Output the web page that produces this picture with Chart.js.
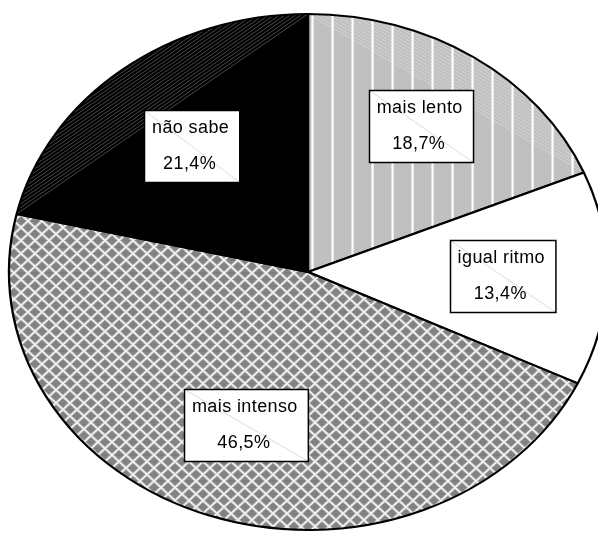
<!DOCTYPE html>
<html>
<head>
<meta charset="utf-8">
<script src="https://cdn.jsdelivr.net/npm/chart.js@4.4.1/dist/chart.umd.min.js"></script>
<style>
  html, body { margin: 0; padding: 0; background: #ffffff; }
  canvas { display: block; }
</style>
</head>
<body>
<canvas id="pie" width="598" height="534"></canvas>
<script>
// Slices, clockwise from 12 o'clock
const categories = ['mais lento', 'igual ritmo', 'mais intenso', 'não sabe'];
const shares = [18.7, 13.4, 46.5, 21.4];

// Horizontal stretch of the pie (it is drawn as an ellipse)
const ASPECT = 1.159;
// Where each label box sits, as a fraction of the radius along its slice's mid-angle
const labelRadius = [0.68, 0.65, 0.63, 0.625];
// Extra shading in the outer segment (between chord and rim) of some slices
const segmentHatch = [
  { color: 'rgba(255,255,255,0.30)', gap: 3 },
  null,
  null,
  { color: '#4a4a4a', gap: 3 }
];

function percentText(v) {
  return v.toFixed(1).replace('.', ',') + '%';
}

// Grey with thin white vertical stripes
function makeStripePattern() {
  const c = document.createElement('canvas');
  c.width = 20; c.height = 20;
  const g = c.getContext('2d');
  g.fillStyle = '#c0c0c0';
  g.fillRect(0, 0, 20, 20);
  g.fillStyle = '#e2e2e2';
  g.fillRect(11, 0, 1, 20);
  g.fillStyle = '#ffffff';
  g.fillRect(12, 0, 1, 20);
  g.fillStyle = '#e8e8e8';
  g.fillRect(13, 0, 1, 20);
  return g.createPattern(c, 'repeat');
}

// Dark grey with a white diamond lattice
function makeDiamondPattern() {
  const W = 14, H = 13;
  const c = document.createElement('canvas');
  c.width = W; c.height = H;
  const g = c.getContext('2d');
  g.fillStyle = '#868686';
  g.fillRect(0, 0, W, H);
  g.fillStyle = 'rgba(0,0,0,0.06)';
  for (let y = 0; y < H; y += 2) g.fillRect(0, y, W, 1);
  const lines = [[0, 0, W, H], [W, 0, 0, H]];
  g.lineCap = 'square';
  g.strokeStyle = '#b4b4b4';
  g.lineWidth = 3;
  lines.forEach(([a, b, c2, d]) => { g.beginPath(); g.moveTo(a, b); g.lineTo(c2, d); g.stroke(); });
  g.strokeStyle = '#f4f4f4';
  g.lineWidth = 1.4;
  lines.forEach(([a, b, c2, d]) => { g.beginPath(); g.moveTo(a, b); g.lineTo(c2, d); g.stroke(); });
  return g.createPattern(c, 'repeat');
}

const stripePattern = makeStripePattern();
const diamondPattern = makeDiamondPattern();
const fills = [stripePattern, '#ffffff', diamondPattern, '#000000'];

// Stretch the pie horizontally around its centre; keep patterns in screen space
const ellipsePlugin = {
  id: 'ellipse',
  beforeDatasetsDraw(chart) {
    const arc = chart.getDatasetMeta(0).data[0];
    const cx = arc.x, cy = arc.y;
    const m = new DOMMatrix([1 / ASPECT, 0, 0, 1, cx - cx / ASPECT, 0]);
    stripePattern.setTransform(m);
    diamondPattern.setTransform(m);
    const ctx = chart.ctx;
    ctx.save();
    ctx.translate(cx, cy);
    ctx.scale(ASPECT, 1);
    ctx.translate(-cx, -cy);
  },
  afterDatasetsDraw(chart) {
    const ctx = chart.ctx;
    const arcs = chart.getDatasetMeta(0).data;
    arcs.forEach((arc, i) => {
      const h = segmentHatch[i];
      if (!h) return;
      const { x, y, startAngle, endAngle, outerRadius } = arc.getProps(['x', 'y', 'startAngle', 'endAngle', 'outerRadius'], true);
      const R = outerRadius - 1;
      const p1 = { x: x + R * Math.cos(startAngle), y: y + R * Math.sin(startAngle) };
      const p2 = { x: x + R * Math.cos(endAngle), y: y + R * Math.sin(endAngle) };
      ctx.save();
      ctx.beginPath();
      ctx.moveTo(p1.x, p1.y);
      ctx.arc(x, y, R, startAngle, endAngle);
      ctx.closePath();
      ctx.clip();
      // screen-space endpoints of the chord
      const s1 = { x: x + (p1.x - x) * ASPECT, y: p1.y };
      const s2 = { x: x + (p2.x - x) * ASPECT, y: p2.y };
      ctx.setTransform(1, 0, 0, 1, 0, 0);
      const dx = s2.x - s1.x, dy = s2.y - s1.y;
      const len = Math.hypot(dx, dy);
      const ux = dx / len, uy = dy / len;
      const nx = -uy, ny = ux;
      ctx.strokeStyle = h.color;
      ctx.lineWidth = 1;
      const span = 700;
      for (let o = -400; o <= 400; o += h.gap) {
        const ox = s1.x + nx * o, oy = s1.y + ny * o;
        ctx.beginPath();
        ctx.moveTo(ox - ux * span, oy - uy * span);
        ctx.lineTo(ox + ux * span, oy + uy * span);
        ctx.stroke();
      }
      ctx.restore();
    });
    ctx.restore();
  }
};

// Boxed labels: category name and its share
const labelPlugin = {
  id: 'boxLabels',
  afterDraw(chart) {
    const ctx = chart.ctx;
    const arcs = chart.getDatasetMeta(0).data;
    ctx.save();
    ctx.font = '18px "Liberation Sans", Arial, sans-serif';
    if ('letterSpacing' in ctx) ctx.letterSpacing = '0.4px';
    ctx.textBaseline = 'middle';
    ctx.textAlign = 'center';
    arcs.forEach((arc, i) => {
      const { x, y, startAngle, endAngle, outerRadius } = arc.getProps(['x', 'y', 'startAngle', 'endAngle', 'outerRadius'], true);
      const mid = (startAngle + endAngle) / 2;
      const r = outerRadius * labelRadius[i];
      const lx = x + Math.cos(mid) * r * ASPECT;
      const ly = y + Math.sin(mid) * r;
      const t1 = categories[i];
      const t2 = percentText(shares[i]);
      const w = Math.max(ctx.measureText(t1).width, ctx.measureText(t2).width) + 18;
      const hgt = 72;
      const bx = Math.round(lx - w / 2) + 0.5;
      const by = Math.round(ly - hgt / 2) + 0.5;
      ctx.fillStyle = '#ffffff';
      ctx.fillRect(bx, by, w, hgt);
      ctx.strokeStyle = '#dcdcdc';
      ctx.lineWidth = 1;
      ctx.beginPath();
      ctx.moveTo(bx, by);
      ctx.lineTo(bx + w, by + hgt);
      ctx.stroke();
      ctx.strokeStyle = '#000000';
      ctx.lineWidth = 1.5;
      ctx.strokeRect(bx, by, w, hgt);
      ctx.fillStyle = '#000000';
      ctx.fillText(t1, lx - 1, ly - 18);
      ctx.fillText(t2, lx - 2, ly + 18);
    });
    ctx.restore();
  }
};

new Chart(document.getElementById('pie'), {
  type: 'pie',
  data: {
    labels: categories,
    datasets: [{
      data: shares,
      backgroundColor: fills,
      borderColor: '#000000',
      borderWidth: 2,
      hoverOffset: 0
    }]
  },
  options: {
    responsive: false,
    animation: false,
    events: [],
    layout: { padding: { top: 13, bottom: 3, left: 18, right: 0 } },
    plugins: {
      legend: { display: false },
      tooltip: { enabled: false }
    }
  },
  plugins: [ellipsePlugin, labelPlugin]
});
</script>
</body>
</html>
